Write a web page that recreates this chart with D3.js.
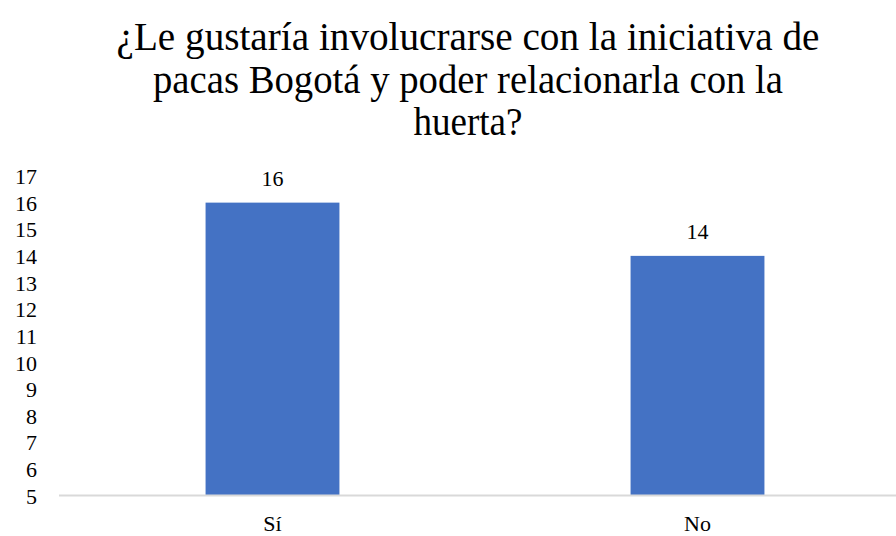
<!DOCTYPE html>
<html>
<head>
<meta charset="utf-8">
<script src="https://cdn.jsdelivr.net/npm/d3@7"></script>
<style>
  body { margin: 0; background: #fff; }
  svg { display: block; }
</style>
</head>
<body>
<svg id="chart" width="896" height="536"></svg>
<script>
// Data
const categories = ["Sí", "No"];
const values = [16, 14];
const yTicks = [5, 6, 7, 8, 9, 10, 11, 12, 13, 14, 15, 16, 17];
const titleLines = [
  "¿Le gustaría  involucrarse  con la iniciativa  de",
  "pacas  Bogotá  y poder relacionarla  con  la",
  "huerta?"
];

const width = 896, height = 536;
const serif = "'Liberation Serif'";
const svg = d3.select("#chart");

const x = d3.scaleBand()
  .domain(categories)
  .range([60, 910])
  .paddingInner(0.685)
  .paddingOuter(0.3425);

const y = d3.scaleLinear()
  .domain([5, 17])
  .range([495.5, 176]);

// Title (squeezed horizontally like the source image)
const titleWidths = [703, 630, 109];
svg.append("g").selectAll("text")
  .data(titleLines)
  .enter()
  .append("text")
  .attr("x", 468)
  .attr("y", (d, i) => 50 + i * 42.5)
  .attr("text-anchor", "middle")
  .style("font-family", serif)
  .style("font-size", "39px")
  .attr("fill", "#000")
  .attr("textLength", (d, i) => titleWidths[i])
  .attr("lengthAdjust", "spacingAndGlyphs")
  .text(d => d);

// Y axis labels (no axis line)
const yAxis = d3.axisLeft(y).tickValues(yTicks).tickSize(0).tickPadding(0);
const yg = svg.append("g")
  .attr("transform", "translate(37,0)")
  .call(yAxis);
yg.select(".domain").remove();
yg.selectAll("text")
  .style("font-family", serif)
  .style("font-size", "22px")
  .attr("fill", "#000")
  .attr("dy", "0.35em");

// Bars
svg.append("g").selectAll("rect")
  .data(values)
  .enter()
  .append("rect")
  .attr("x", (d, i) => x(categories[i]))
  .attr("y", d => y(d))
  .attr("width", x.bandwidth())
  .attr("height", d => y(5) - y(d))
  .attr("fill", "#4472c4");

// Baseline
svg.append("line")
  .attr("x1", 59)
  .attr("x2", width)
  .attr("y1", y(5))
  .attr("y2", y(5))
  .attr("stroke", "#d9d9d9")
  .attr("stroke-width", 2);

// Value labels
svg.append("g").selectAll("text")
  .data(values)
  .enter()
  .append("text")
  .attr("x", (d, i) => x(categories[i]) + x.bandwidth() / 2)
  .attr("y", d => y(d) - 17)
  .attr("text-anchor", "middle")
  .style("font-family", serif)
  .style("font-size", "22px")
  .attr("fill", "#000")
  .text(d => d);

// Category labels
const xAxis = d3.axisBottom(x).tickSize(0).tickPadding(0);
const xg = svg.append("g")
  .attr("transform", "translate(0,531)")
  .call(xAxis);
xg.select(".domain").remove();
xg.selectAll("text")
  .style("font-family", serif)
  .style("font-size", "22px")
  .attr("fill", "#000")
  .attr("dy", "0");
</script>
</body>
</html>
